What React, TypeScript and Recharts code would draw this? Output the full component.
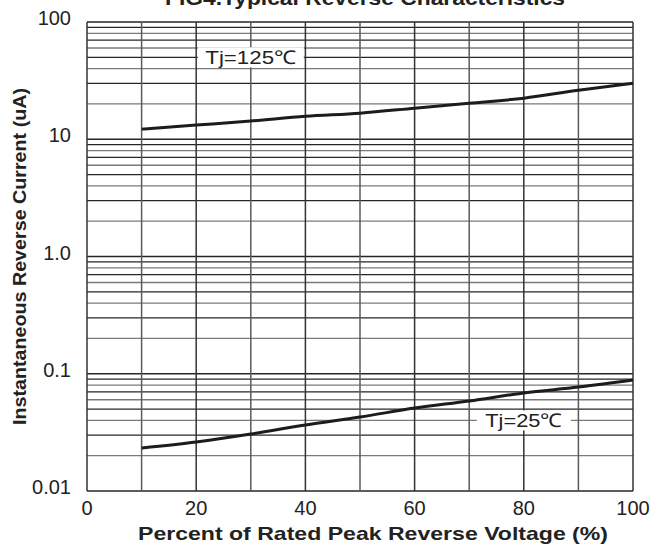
import { LineChart, Line, XAxis, YAxis, ReferenceLine, ReferenceDot } from 'recharts';

// percent of rated peak reverse voltage
const voltagePct = [10, 20, 30, 40, 50, 60, 70, 80, 90, 100];
// reverse current (uA)
const tj125 = [12.2, 13.2, 14.3, 15.7, 16.7, 18.4, 20.3, 22.4, 26.2, 30.1];
const tj25 = [0.0233, 0.0262, 0.0306, 0.0366, 0.0427, 0.051, 0.0586, 0.0686, 0.077, 0.0885];

const xTicks = [0, 20, 40, 60, 80, 100];
const xGrid = [0, 10, 20, 30, 40, 50, 60, 70, 80, 90, 100];
const yTicks = [0.01, 0.1, 1, 10, 100];
const yTickLabels = ['0.01', '0.1', '1.0', '10', '100'];
const decades = [0.01, 0.1, 1, 10];
const minorSteps = [2, 3, 4, 5, 6, 7, 8, 9];

const data = voltagePct.map((v, i) => ({ v, hot: tj125[i], cold: tj25[i] }));

const yGrid = [
  ...yTicks.map(y => ({ y, dark: true })),
  ...decades.flatMap(d => minorSteps.map((m, i) => ({ y: +(d * m).toPrecision(3), dark: i % 2 === 1 }))),
];

const FONT = '"Liberation Sans", Arial, sans-serif';

function tagShape(text: string, w: number, len: number) {
  return (p: any) => (
    <g>
      <rect x={p.cx - w / 2} y={p.cy - 10} width={w} height={20} fill="#fff" />
      <text
        x={p.cx - len / 2}
        y={p.cy}
        dominantBaseline="central"
        fontSize={19}
        fill="#222"
        fontFamily={FONT}
        textLength={len}
        lengthAdjust="spacingAndGlyphs"
      >
        {text}
      </text>
    </g>
  );
}

export default function App() {
  return (
    <div style={{ position: 'absolute', left: 0, top: 0, width: 672, height: 549, background: '#fff', fontFamily: FONT }}>
      <LineChart width={672} height={549} data={data} margin={{ top: 22, right: 39, left: 0, bottom: 0 }}>
        <XAxis
          dataKey="v"
          type="number"
          domain={[0, 100]}
          ticks={xTicks}
          axisLine={false}
          tickLine={false}
          height={58}
          tickMargin={4}
          tick={{ fontSize: 20, fill: '#222', fontFamily: FONT }}
        />
        <YAxis
          scale="log"
          domain={[0.01, 100]}
          ticks={yTicks}
          allowDataOverflow
          axisLine={false}
          tickLine={false}
          width={87}
          tickMargin={10}
          tickFormatter={(v: number) => yTickLabels[yTicks.indexOf(v)] ?? ''}
          tick={{ fontSize: 20, fill: '#222', fontFamily: FONT, dy: -4 }}
        />
        {yGrid.map(g => (
          <ReferenceLine key={'h' + g.y} y={g.y} stroke={g.dark ? '#262626' : '#7a7a7a'} strokeWidth={1.3} />
        ))}
        {xGrid.map((x, i) => (
          <ReferenceLine key={'v' + x} x={x} stroke={i % 2 === 0 ? '#333' : '#5a5a5a'} strokeWidth={1.5} />
        ))}
        <ReferenceDot x={30} y={50} r={0} shape={tagShape('Tj=125℃', 106, 91)} />
        <ReferenceDot x={80} y={0.04} r={0} shape={tagShape('Tj=25℃', 94, 77)} />
        <Line type="monotone" dataKey="hot" stroke="#1c1c1c" strokeWidth={3} dot={false} isAnimationActive={false} />
        <Line type="monotone" dataKey="cold" stroke="#1c1c1c" strokeWidth={3} dot={false} isAnimationActive={false} />
      </LineChart>
      <svg width={672} height={549} style={{ position: 'absolute', left: 0, top: 0, pointerEvents: 'none' }}>
        <text x={165} y={5} fontSize={20} fontWeight="bold" fill="#222" fontFamily={FONT} textLength={400} lengthAdjust="spacingAndGlyphs">
          FIG4.Typical Reverse Characteristics
        </text>
        <text x={138} y={540} fontSize={19} fontWeight="bold" fill="#222" fontFamily={FONT} textLength={470} lengthAdjust="spacingAndGlyphs">
          Percent of Rated Peak Reverse Voltage  (%)
        </text>
        <text
          x={0}
          y={0}
          transform="translate(26,425) rotate(-90)"
          fontSize={18}
          fontWeight="bold"
          fill="#222"
          fontFamily={FONT}
          textLength={337}
          lengthAdjust="spacingAndGlyphs"
        >
          Instantaneous Reverse Current (uA)
        </text>
      </svg>
    </div>
  );
}
